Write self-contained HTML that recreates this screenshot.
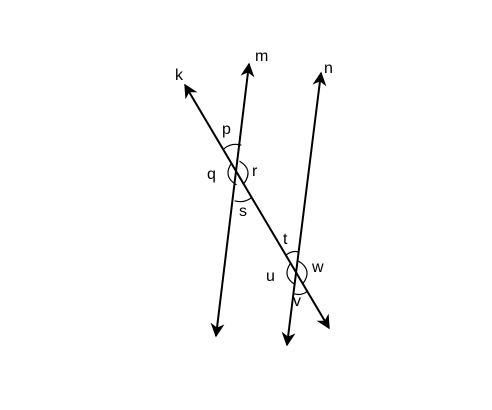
<!DOCTYPE html>
<html><head><meta charset="utf-8"><style>
html,body{margin:0;padding:0;background:#fff;}
svg{display:block;}
text{font-family:"Liberation Sans",sans-serif;font-size:16px;fill:#000;}
</style></head><body>
<svg id="fig" width="492" height="410" viewBox="0 0 492 410">
<defs><marker id="ah" viewBox="0 0 10 10" refX="9" refY="5" markerWidth="7" markerHeight="7" orient="auto-start-reverse"><path d="M0,0 L10,5 L0,10 L3,5 z" fill="#000"/></marker></defs>
<line x1="185" y1="85" x2="329" y2="328" stroke="#000" stroke-width="2" marker-start="url(#ah)" marker-end="url(#ah)"/>
<line x1="249" y1="64" x2="216" y2="336" stroke="#000" stroke-width="2" marker-start="url(#ah)" marker-end="url(#ah)"/>
<line x1="321" y1="73" x2="287" y2="345" stroke="#000" stroke-width="2" marker-start="url(#ah)" marker-end="url(#ah)"/>
<g id="arcs" fill="none" stroke="#000" stroke-width="1.2"></g>
<text x="175" y="80">k</text>
<text x="255" y="61">m</text>
<text x="324" y="73">n</text>
<text x="222" y="134">p</text>
<text x="207" y="179">q</text>
<text x="252" y="176">r</text>
<text x="239" y="216">s</text>
<text x="283" y="244">t</text>
<text x="266" y="281">u</text>
<text x="312" y="272">w</text>
<text x="293" y="306">v</text>
</svg>
<script>
const g=document.getElementById('arcs');
function arcs(cx,cy,angles,da){
  for(let i=0;i<4;i++){
    const a1=angles[i];
    const a2=i==3?angles[0]+Math.PI*2:angles[i+1];
    const span=a2-a1, mid=(a1+a2)/2;
    const acute=span<Math.PI/2;
    const d=acute?da:12, c=acute?d*1.12:d*1.35;
    const x1=cx+d*Math.cos(a1),y1=cy+d*Math.sin(a1),x2=cx+d*Math.cos(a2),y2=cy+d*Math.sin(a2);
    const qx=cx+c*Math.cos(mid),qy=cy+c*Math.sin(mid);
    const p=document.createElementNS('http://www.w3.org/2000/svg','path');
    p.setAttribute('d',`M${x1},${y1} Q${qx},${qy} ${x2},${y2}`);
    
    
    g.appendChild(p);
  }
}
const ak=Math.atan2(243,144), am=Math.atan2(-272,33), an=Math.atan2(-272,34);
function sorted(a,b){return [a,b,a+Math.PI,b+Math.PI].map(x=>(x%(2*Math.PI)+2*Math.PI)%(2*Math.PI)).sort((x,y)=>x-y);}
arcs(238,173,sorted(ak,am),28);
arcs(297,273,sorted(ak,an),21);
</script>
</body></html>
